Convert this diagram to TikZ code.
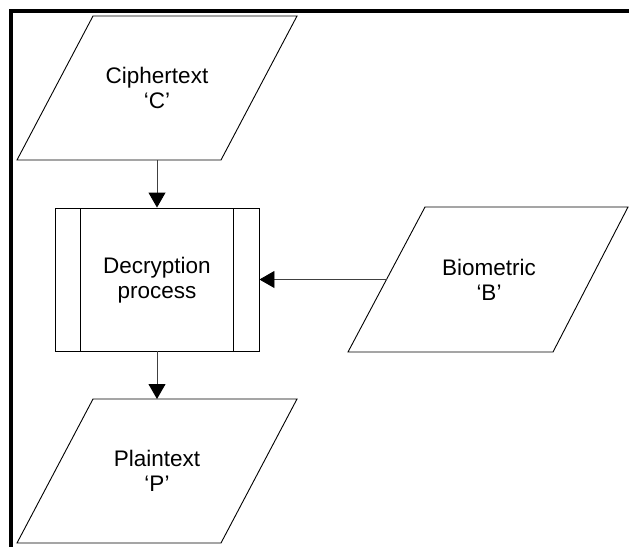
\documentclass[tikz,border=0pt]{standalone}
\usepackage{fontspec}
\setmainfont{Liberation Sans}
\usetikzlibrary{arrows.meta}
\tikzset{
  shapeline/.style={draw=black, line width=0.9pt},
  lbl/.style={align=center, font=\fontsize{22.5}{24.5}\selectfont, inner sep=0pt},
  conn/.style={draw=black!75, line width=0.9pt, -{Triangle[width=17pt,length=15pt,color=black]}},
  frame/.style={line width=4pt, draw=black}
}
\begin{document}
\begin{tikzpicture}[x=1pt,y=-1pt]
\useasboundingbox (0,0) rectangle (629,547);
% frame (top and left)
\draw[frame] (9,11) -- (629,11);
\draw[frame] (11,9) -- (11,547);
% Ciphertext
\draw[shapeline] (93,16) -- (297,16) -- (221,160) -- (17,160) -- cycle;
\node[lbl] (ct) at (157,88) {Ciphertext\\‘C’};
\coordinate (ctb) at (157,160);
% Decryption process
\node[shapeline, minimum width=204pt, minimum height=143pt, inner sep=0pt] (dec) at (157,279.5) {};
\draw[shapeline] (80,208) -- (80,351);
\draw[shapeline] (233,208) -- (233,351);
\node[lbl] (dect) at (157,280) {Decryption\\process};
% Biometric
\draw[shapeline] (425,207) -- (628,207) -- (553,352) -- (348,352) -- cycle;
\node[lbl] (bio) at (489,280) {Biometric\\‘B’};
\coordinate (biol) at (386.5,279.5);
% Plaintext
\draw[shapeline] (93,399) -- (297,399) -- (221,543) -- (17,543) -- cycle;
\node[lbl] (pt) at (157,471) {Plaintext\\‘P’};
\coordinate (ptt) at (157,399);
% connectors
\draw[conn] (ctb) -- (dec.north);
\draw[conn] (biol) -- (dec.east);
\draw[conn] (dec.south) -- (ptt);
\end{tikzpicture}
\end{document}
